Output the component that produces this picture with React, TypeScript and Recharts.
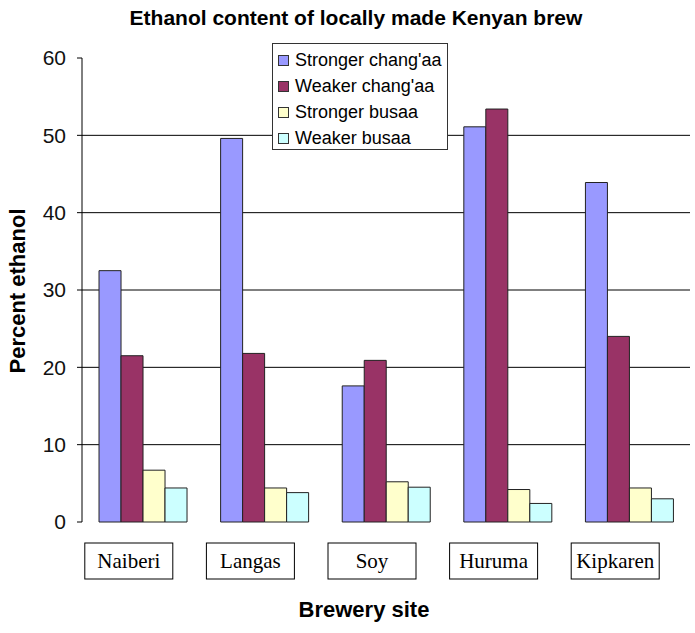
import { BarChart, Bar, XAxis, YAxis, CartesianGrid } from 'recharts';

const sites = ['Naiberi', 'Langas', 'Soy', 'Huruma', 'Kipkaren'];
const strongerChangaa = [32.5, 49.6, 17.6, 51.1, 43.9];
const weakerChangaa = [21.5, 21.8, 20.9, 53.4, 24.0];
const strongerBusaa = [6.7, 4.4, 5.2, 4.2, 4.4];
const weakerBusaa = [4.4, 3.8, 4.5, 2.4, 3.0];
const yTicks = [0, 10, 20, 30, 40, 50, 60];
const gridValues = [10, 20, 30, 40, 50];

const series = [
  { key: 'sc', name: "Stronger chang'aa", color: '#9999FF' },
  { key: 'wc', name: "Weaker chang'aa", color: '#993366' },
  { key: 'sb', name: 'Stronger busaa', color: '#FFFFCC' },
  { key: 'wb', name: 'Weaker busaa', color: '#CCFFFF' },
];

const data = sites.map((site, i) => ({
  site,
  sc: strongerChangaa[i],
  wc: weakerChangaa[i],
  sb: strongerBusaa[i],
  wb: weakerBusaa[i],
}));

const sans = "'Liberation Sans', Arial, sans-serif";

const SiteTick = (props: any) => {
  const { x, y, payload } = props;
  return (
    <g transform={`translate(${x - 14},${y})`}>
      <rect x={-44} y={13} width={88} height={36} fill="#fff" stroke="#000" strokeWidth={1} />
      <text
        x={0}
        y={38}
        textAnchor="middle"
        fontFamily="'Liberation Serif', 'Times New Roman', serif"
        fontSize={21}
        fill="#000"
      >
        {payload.value}
      </text>
    </g>
  );
};

const LegendBox = () => (
  <div
    style={{
      position: 'absolute',
      left: 272,
      top: 43,
      width: 176,
      height: 107,
      boxSizing: 'border-box',
      background: '#fff',
      border: '1px solid #333',
      padding: '3px 0 0 5px',
      fontFamily: sans,
      fontSize: 18,
      color: '#000',
      lineHeight: '26px',
    }}
  >
    {series.map((s) => (
      <div key={s.key} style={{ display: 'flex', alignItems: 'center', whiteSpace: 'nowrap' }}>
        <span
          style={{
            display: 'inline-block',
            width: 9,
            height: 9,
            background: s.color,
            border: '1px solid #333',
            marginRight: 6,
          }}
        />
        {s.name}
      </div>
    ))}
  </div>
);

export default function App() {
  return (
    <div style={{ position: 'absolute', left: 0, top: 0, width: 695, height: 633, background: '#fff' }}>
      <BarChart
        width={695}
        height={633}
        data={data}
        margin={{ top: 58, right: 5, left: 0, bottom: 0 }}
        barGap={0}
        barCategoryGap="14%"
      >
        <CartesianGrid
          horizontal
          vertical={false}
          stroke="#000"
          strokeWidth={1}
          horizontalValues={gridValues}
        />
        <XAxis
          dataKey="site"
          height={111}
          axisLine={false}
          tickLine={false}
          interval={0}
          tick={<SiteTick />}
        />
        <YAxis
          width={82}
          domain={[0, 60]}
          ticks={yTicks}
          interval={0}
          axisLine={{ stroke: '#000' }}
          tickLine={{ stroke: '#000' }}
          tickSize={5}
          tickMargin={11}
          tick={{ fontSize: 21, fill: '#111', fontFamily: sans }}
        />
        {series.map((s) => (
          <Bar
            key={s.key}
            dataKey={s.key}
            name={s.name}
            fill={s.color}
            stroke="#222"
            strokeWidth={1}
            isAnimationActive={false}
          />
        ))}
      </BarChart>
      <LegendBox />
      <div
        style={{
          position: 'absolute',
          top: 6,
          left: 0,
          width: 712,
          textAlign: 'center',
          fontFamily: sans,
          fontWeight: 'bold',
          fontSize: 21,
        }}
      >
        Ethanol content of locally made Kenyan brew
      </div>
      <div
        style={{
          position: 'absolute',
          left: 18,
          top: 291,
          transform: 'translate(-50%, -50%) rotate(-90deg)',
          fontFamily: sans,
          fontWeight: 'bold',
          fontSize: 22,
          whiteSpace: 'nowrap',
        }}
      >
        Percent ethanol
      </div>
      <div
        style={{
          position: 'absolute',
          top: 597,
          left: 0,
          width: 728,
          textAlign: 'center',
          fontFamily: sans,
          fontWeight: 'bold',
          fontSize: 22,
        }}
      >
        Brewery site
      </div>
    </div>
  );
}
